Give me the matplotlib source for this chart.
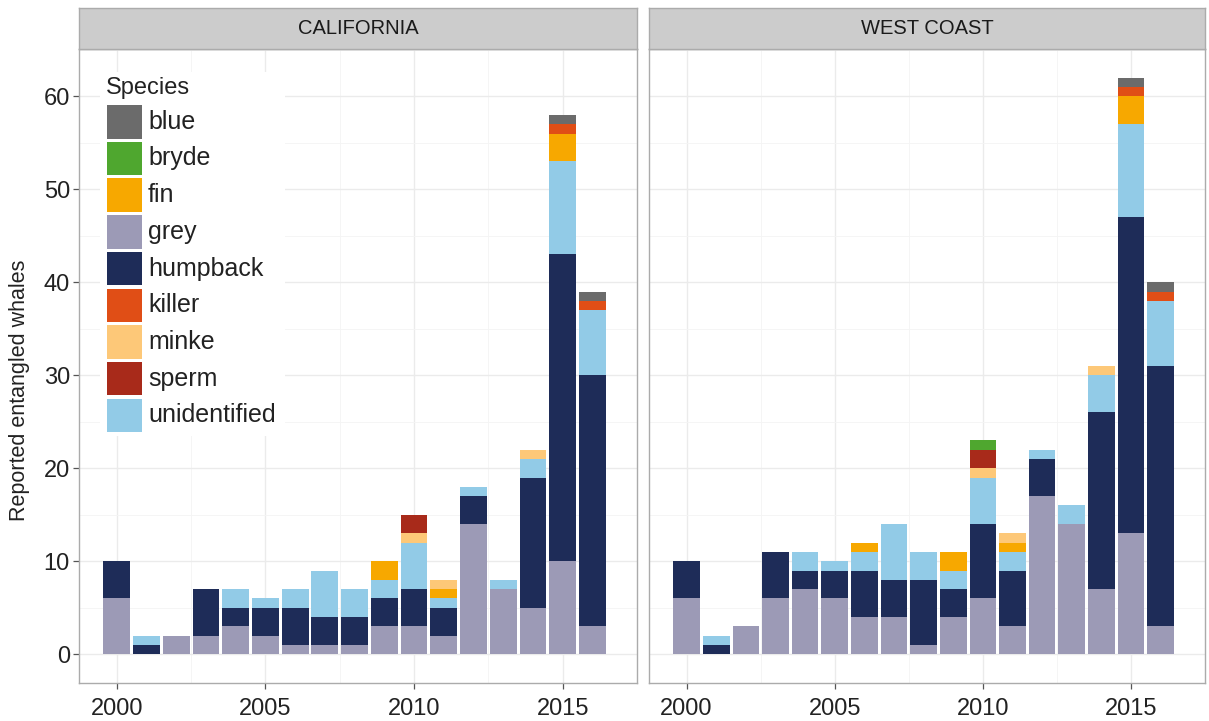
import matplotlib
matplotlib.use("Agg")
import matplotlib.pyplot as plt
from matplotlib.patches import Rectangle
import numpy as np

plt.rcParams['font.family'] = ['Liberation Sans', 'DejaVu Sans']

years = list(range(2000, 2017))
regions = ["CALIFORNIA", "WEST COAST"]

# legend order
species = ["blue", "bryde", "fin", "grey", "humpback", "killer", "minke", "sperm", "unidentified"]
# stacking order, bottom to top
stack_order = ["grey", "humpback", "unidentified", "fin", "minke", "sperm", "killer", "bryde", "blue"]

colors = {
    "blue": "#6b6b6b",
    "bryde": "#4fa72f",
    "fin": "#f7a800",
    "grey": "#9c9ab6",
    "humpback": "#1e2c58",
    "killer": "#e04e16",
    "minke": "#fdc878",
    "sperm": "#a82a1a",
    "unidentified": "#92cbe7",
}

# California counts by year 2000..2016
ca_grey =         [6, 0, 2, 2, 3, 2, 1, 1, 1, 3, 3, 2, 14, 7, 5, 10, 3]
ca_humpback =     [4, 1, 0, 5, 2, 3, 4, 3, 3, 3, 4, 3, 3, 0, 14, 33, 27]
ca_unidentified = [0, 1, 0, 0, 2, 1, 2, 5, 3, 2, 5, 1, 1, 1, 2, 10, 7]
ca_fin =          [0, 0, 0, 0, 0, 0, 0, 0, 0, 2, 0, 1, 0, 0, 0, 3, 0]
ca_minke =        [0, 0, 0, 0, 0, 0, 0, 0, 0, 0, 1, 1, 0, 0, 1, 0, 0]
ca_sperm =        [0, 0, 0, 0, 0, 0, 0, 0, 0, 0, 2, 0, 0, 0, 0, 0, 0]
ca_killer =       [0, 0, 0, 0, 0, 0, 0, 0, 0, 0, 0, 0, 0, 0, 0, 1, 1]
ca_bryde =        [0, 0, 0, 0, 0, 0, 0, 0, 0, 0, 0, 0, 0, 0, 0, 0, 0]
ca_blue =         [0, 0, 0, 0, 0, 0, 0, 0, 0, 0, 0, 0, 0, 0, 0, 1, 1]

# West Coast counts by year 2000..2016
wc_grey =         [6, 0, 3, 6, 7, 6, 4, 4, 1, 4, 6, 3, 17, 14, 7, 13, 3]
wc_humpback =     [4, 1, 0, 5, 2, 3, 5, 4, 7, 3, 8, 6, 4, 0, 19, 34, 28]
wc_unidentified = [0, 1, 0, 0, 2, 1, 2, 6, 3, 2, 5, 2, 1, 2, 4, 10, 7]
wc_fin =          [0, 0, 0, 0, 0, 0, 1, 0, 0, 2, 0, 1, 0, 0, 0, 3, 0]
wc_minke =        [0, 0, 0, 0, 0, 0, 0, 0, 0, 0, 1, 1, 0, 0, 1, 0, 0]
wc_sperm =        [0, 0, 0, 0, 0, 0, 0, 0, 0, 0, 2, 0, 0, 0, 0, 0, 0]
wc_killer =       [0, 0, 0, 0, 0, 0, 0, 0, 0, 0, 0, 0, 0, 0, 0, 1, 1]
wc_bryde =        [0, 0, 0, 0, 0, 0, 0, 0, 0, 0, 1, 0, 0, 0, 0, 0, 0]
wc_blue =         [0, 0, 0, 0, 0, 0, 0, 0, 0, 0, 0, 0, 0, 0, 0, 1, 1]

data = {
    "CALIFORNIA": {
        "grey": ca_grey, "humpback": ca_humpback, "unidentified": ca_unidentified,
        "fin": ca_fin, "minke": ca_minke, "sperm": ca_sperm, "killer": ca_killer,
        "bryde": ca_bryde, "blue": ca_blue,
    },
    "WEST COAST": {
        "grey": wc_grey, "humpback": wc_humpback, "unidentified": wc_unidentified,
        "fin": wc_fin, "minke": wc_minke, "sperm": wc_sperm, "killer": wc_killer,
        "bryde": wc_bryde, "blue": wc_blue,
    },
}

W, H = 1209, 721
fig = plt.figure(figsize=(W / 100, H / 100), dpi=100)

panel_px = [(79, 637), (649, 1205)]
top_px, bottom_px, strip_top_px = 49, 683, 8
text_col = "#222222"
border_col = "#ababab"

axes = []
for i, region in enumerate(regions):
    x0, x1 = panel_px[i]
    ax = fig.add_axes([x0 / W, 1 - bottom_px / H, (x1 - x0) / W, (bottom_px - top_px) / H])
    axes.append(ax)
    ax.set_axisbelow(True)

    yr = np.array(years)
    bottom = np.zeros(len(years))
    for sp in stack_order:
        vals = np.array(data[region][sp], dtype=float)
        ax.bar(yr, vals, width=0.9, bottom=bottom, color=colors[sp], linewidth=0, zorder=2)
        bottom += vals

    ax.set_xlim(1998.73, 2017.32)
    ax.set_ylim(-3.1, 65.1)
    ax.set_xticks([2000, 2005, 2010, 2015])
    ax.set_xticks([2002.5, 2007.5, 2012.5, 2017.5], minor=True)
    ax.set_yticks([0, 10, 20, 30, 40, 50, 60])
    ax.set_yticks([5, 15, 25, 35, 45, 55, 65], minor=True)
    ax.grid(which="major", color="#ebebeb", linewidth=1.0, zorder=0)
    ax.grid(which="minor", color="#f4f4f4", linewidth=0.6, zorder=0)
    for s in ax.spines.values():
        s.set_color(border_col)
        s.set_linewidth(1.0)
    ax.tick_params(axis="both", which="major", length=4.5, width=0.9, color="#555555",
                   labelsize=17, labelcolor=text_col, pad=2)
    ax.tick_params(axis="x", which="major", pad=6)
    ax.tick_params(axis="both", which="minor", length=0)
    if i == 1:
        ax.tick_params(axis="y", which="both", left=False, labelleft=False)

    # facet strip
    sax = fig.add_axes([x0 / W, 1 - top_px / H, (x1 - x0) / W, (top_px - strip_top_px) / H])
    sax.set_xticks([])
    sax.set_yticks([])
    sax.set_facecolor("#cccccc")
    for s in sax.spines.values():
        s.set_color(border_col)
        s.set_linewidth(1.0)
    sax.text(0.5, 0.5, region, ha="center", va="center", fontsize=14.5, color="#1a1a1a",
             transform=sax.transAxes)

fig.text(20 / W, 1 - 390 / H, "Reported entangled whales", rotation=90, ha="center",
         va="center", fontsize=15.5, color=text_col)

# legend drawn in figure pixel space (origin top-left)
lax = fig.add_axes([0, 0, 1, 1], zorder=10)
lax.set_xlim(0, W)
lax.set_ylim(H, 0)
lax.axis("off")
lax.patch.set_alpha(0)

key_x, key_w, key_h = 107, 35, 33.5
first_key_top, key_pitch = 105, 36.7
n = len(species)
lax.add_patch(Rectangle((100, 72), 185, first_key_top - 72 + key_pitch * (n - 1) + key_h + 4,
                        facecolor="white", edgecolor="none"))
lax.text(key_x - 1, 88, "Species", fontsize=17, color=text_col, ha="left", va="center")
for k, sp in enumerate(species):
    top = first_key_top + k * key_pitch
    lax.add_patch(Rectangle((key_x, top), key_w, key_h, facecolor=colors[sp], edgecolor="none"))
    lax.text(key_x + key_w + 6, top + key_h / 2, sp, fontsize=18, color=text_col,
             ha="left", va="center")

fig.savefig("out.png", dpi=100)
